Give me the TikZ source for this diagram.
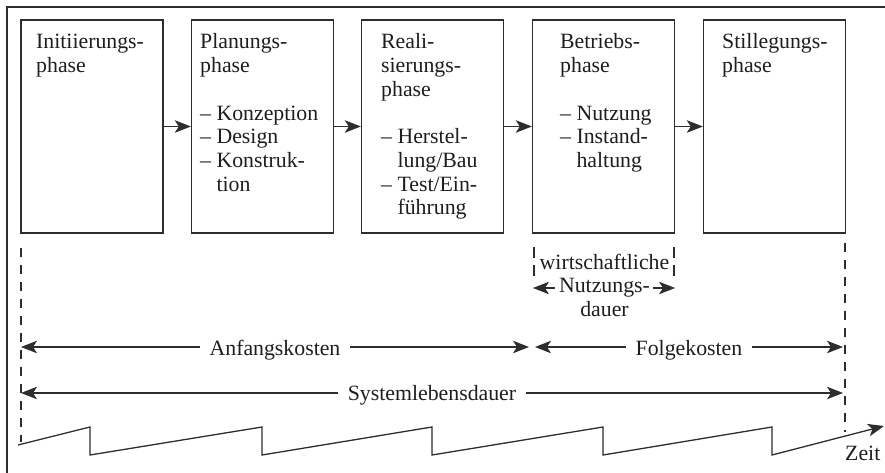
\documentclass[tikz,border=0pt]{standalone}
\usepackage{fontspec}
\setmainfont{Liberation Serif}
\usetikzlibrary{arrows.meta}

\definecolor{ink}{RGB}{45,45,45}
\definecolor{txt}{RGB}{30,30,30}

% multi-line text whose reference point is the first baseline
\newcommand\phaselines[1]{\begin{tabular}[t]{@{}l@{}}#1\end{tabular}}
\newcommand\centrelines[1]{\begin{tabular}[t]{@{}c@{}}#1\end{tabular}}

\tikzset{
  phasebox/.style={draw=ink, line width=1.4pt, minimum width=142pt, minimum height=213pt},
  boxtext/.style={anchor=base west},
  flow/.style={draw=ink, line width=1.3pt, -{Stealth[length=16pt,width=12.5pt,inset=4pt]}},
  span/.style={draw=ink, line width=1.2pt, {Stealth[length=16pt,width=12.5pt,inset=4pt]}-{Stealth[length=16pt,width=12.5pt,inset=4pt]}},
  spanlabel/.style={fill=white, inner xsep=10pt, inner ysep=3pt, anchor=base, yshift=-8pt},
  guide/.style={draw=ink, line width=1.2pt, dash pattern=on 9pt off 8pt},
  shortguide/.style={draw=ink, line width=1.1pt, dash pattern=on 11pt off 7pt},
}

\begin{document}
\begin{tikzpicture}[x=1pt,y=-1pt,
  every node/.style={inner sep=0pt, text=txt, font=\fontsize{21.8}{23.7}\selectfont}]
\useasboundingbox (0,0) rectangle (885,473);

% outer frame (top and left edges)
\draw[ink, line width=1.4pt] (7,473) -- (7,7) -- (885,7);

% phase boxes
\node[phasebox] (b1) at (92,126.5) {};
\node[phasebox] (b2) at (262.5,126.5) {};
\node[phasebox] (b3) at (432.5,126.5) {};
\node[phasebox] (b4) at (603.5,126.5) {};
\node[phasebox] (b5) at (774.5,126.5) {};

\draw[flow] (b1) -- (b2);
\draw[flow] (b2) -- (b3);
\draw[flow] (b3) -- (b4);
\draw[flow] (b4) -- (b5);

% box contents
\node[boxtext] (t1) at (36,49) {\phaselines{Initiierungs-\\phase}};
\node[boxtext] (t2) at (200,49) {\phaselines{Planungs-\\phase\\[23.7pt]-- Konzeption\\-- Design\\-- Konstruk-\\\phantom{-- }tion}};
\node[boxtext] (t3) at (381,49) {\phaselines{Reali-\\sierungs-\\phase\\[23.7pt]-- Herstel-\\\phantom{-- }lung/Bau\\-- Test/Ein-\\\phantom{-- }führung}};
\node[boxtext] (t4) at (560,49) {\phaselines{Betriebs-\\phase\\[23.7pt]-- Nutzung\\-- Instand-\\\phantom{-- }haltung}};
\node[boxtext] (t5) at (722,49) {\phaselines{Stillegungs-\\phase}};

% long guide lines at start and end of the life cycle
\coordinate (g1t) at (21,248);
\coordinate (g1b) at (21,442);
\coordinate (g5t) at (845,243);
\coordinate (g5b) at (845,432);
\draw[guide] (g1t) -- (g1b);
\draw[guide] (g5t) -- (g5b);

% economic useful life
\coordinate (w1t) at (534,247);
\coordinate (w1b) at (534,277);
\coordinate (w2t) at (674,247);
\coordinate (w2b) at (674,277);
\draw[shortguide] (w1t) -- (w1b);
\draw[shortguide] (w2t) -- (w2b);
\node[anchor=base] (wn) at (604.5,269) {\centrelines{wirtschaftliche\\Nutzungs-\\dauer}};
\coordinate (wa1) at (555,288);
\coordinate (wa2) at (533,288);
\coordinate (wb1) at (653,288);
\coordinate (wb2) at (675,288);
\draw[flow] (wa1) -- (wa2);
\draw[flow] (wb1) -- (wb2);

% cost spans
\coordinate (aL) at (21,347);
\coordinate (aR) at (529,347);
\coordinate (fL) at (535,347);
\coordinate (fR) at (843,347);
\coordinate (sL) at (21,393);
\coordinate (sR) at (843,393);
\draw[span] (aL) -- node[spanlabel] (la) {Anfangskosten} (aR);
\draw[span] (fL) -- node[spanlabel] (lf) {Folgekosten} (fR);
\draw[span] (sL) -- node[spanlabel, yshift=1pt] (ls) {Systemlebensdauer} (sR);

% time axis with saw-tooth profile
\draw[flow] (18,445) -- (90,427) -- (90,455) -- (262,427) -- (262,455)
  -- (432,427) -- (432,455) -- (603,427) -- (603,455) -- (772,427)
  -- (772,455) -- (884,426);
\node[anchor=base west] (zeit) at (845,460) {Zeit};
\end{tikzpicture}
\end{document}
